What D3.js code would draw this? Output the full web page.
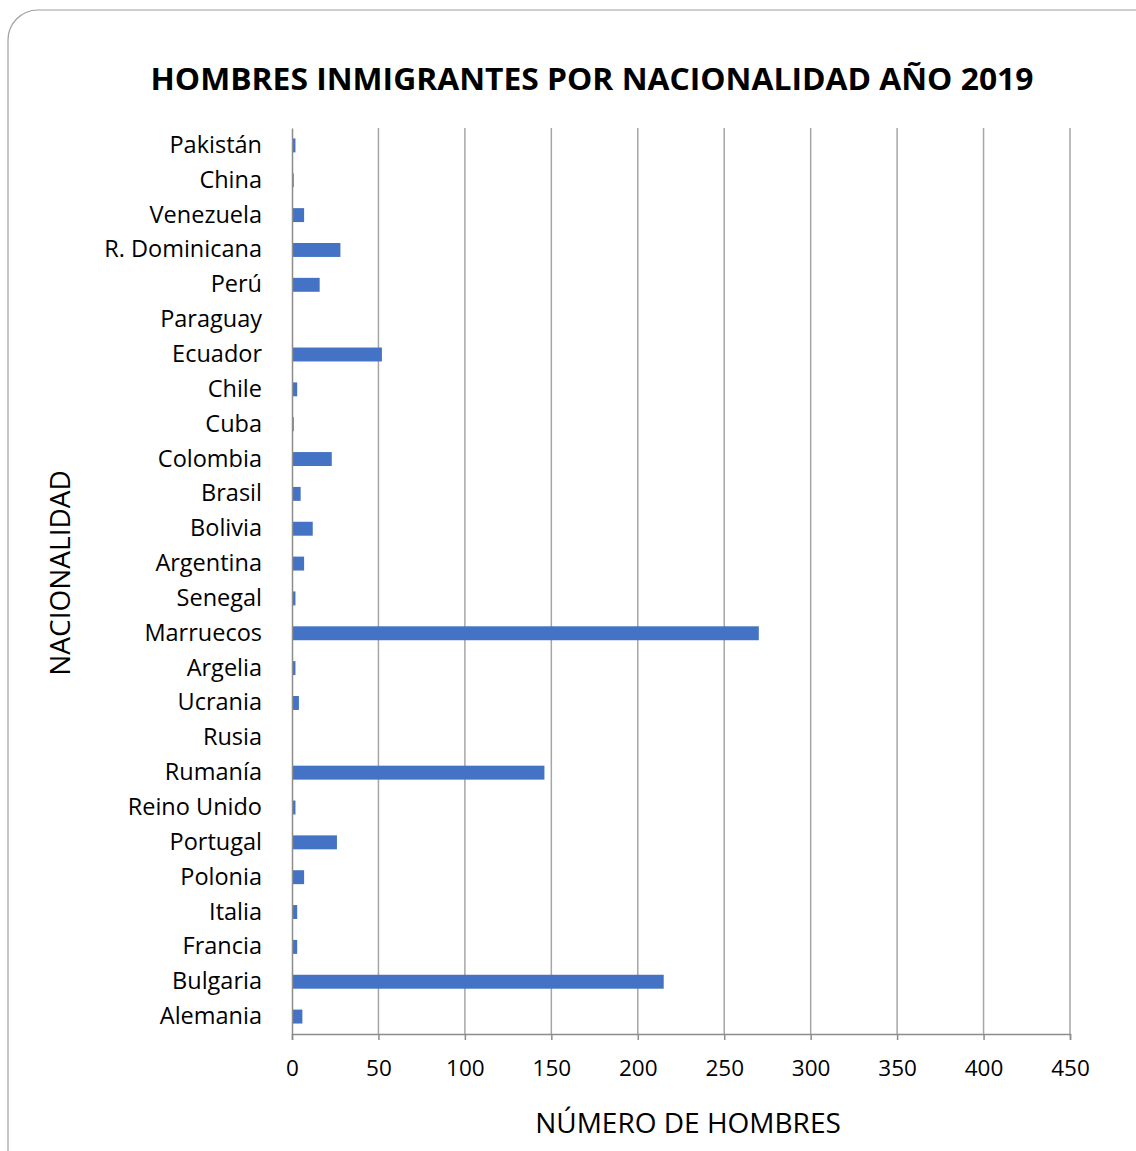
<!DOCTYPE html>
<html>
<head>
<meta charset="utf-8">
<script src="https://cdn.jsdelivr.net/npm/d3@7"></script>
<style>
  body { margin: 0; background: #fff; }
  text { font-family: "Open Sans", "Noto Sans", sans-serif; }
</style>
</head>
<body>
<svg id="chart" width="1136" height="1151"></svg>
<script>
// categories top to bottom
var paises = ["Pakistán", "China", "Venezuela", "R. Dominicana", "Perú", "Paraguay", "Ecuador",
  "Chile", "Cuba", "Colombia", "Brasil", "Bolivia", "Argentina", "Senegal", "Marruecos",
  "Argelia", "Ucrania", "Rusia", "Rumanía", "Reino Unido", "Portugal", "Polonia", "Italia",
  "Francia", "Bulgaria", "Alemania"];
var hombres = [2, 1, 7, 28, 16, 0, 52, 3, 1, 23, 5, 12, 7, 2, 270, 2, 4, 0, 146, 2, 26, 7, 3, 3, 215, 6];
var ticks = [0, 50, 100, 150, 200, 250, 300, 350, 400, 450];

var svg = d3.select("#chart");
var margin = {left: 292, right: 1070, top: 128, bottom: 1034};

// chart frame
svg.append("rect")
    .attr("x", 8).attr("y", 10)
    .attr("width", 1160).attr("height", 1170)
    .attr("rx", 30)
    .attr("fill", "#fff")
    .attr("stroke", "#a0a0a0")
    .attr("stroke-width", 1.2);

var x = d3.scaleLinear().domain([0, 450]).range([margin.left, margin.right]);
var y = d3.scaleBand().domain(paises).range([margin.top, margin.bottom]).paddingInner(0.6).paddingOuter(0.3);

// gridlines
svg.append("g")
    .selectAll("line")
    .data(ticks.slice(1))
    .join("line")
    .attr("x1", d => x(d)).attr("x2", d => x(d))
    .attr("y1", margin.top).attr("y2", margin.bottom)
    .attr("stroke", "#a6a6a6")
    .attr("stroke-width", 1.5);

// bars
svg.append("g")
    .selectAll("rect")
    .data(paises)
    .join("rect")
    .attr("x", x(0))
    .attr("y", (d, i) => y(d))
    .attr("width", (d, i) => Math.max(0, x(hombres[i]) - x(0)))
    .attr("height", y.bandwidth())
    .attr("fill", "#4472c4");

// x axis
var xAxis = svg.append("g")
    .attr("transform", "translate(0," + margin.bottom + ")")
    .call(d3.axisBottom(x).tickValues(ticks).tickSize(6).tickPadding(20));
xAxis.select(".domain").attr("stroke", "#8c8c8c").attr("stroke-width", 1.5);
xAxis.selectAll(".tick line").attr("stroke", "#8c8c8c").attr("stroke-width", 1.5);
xAxis.selectAll(".tick text")
    .attr("font-size", 22.5)
    .attr("fill", "#000")
    .style("font-family", "'Open Sans', sans-serif");

// y axis
var yAxis = svg.append("g")
    .attr("transform", "translate(" + margin.left + ",0)")
    .call(d3.axisLeft(y).tickSize(0).tickPadding(30));
yAxis.select(".domain").attr("stroke", "#8c8c8c").attr("stroke-width", 1.5);
yAxis.selectAll(".tick text")
    .attr("font-size", 23.5)
    .attr("fill", "#000")
    .style("font-family", "'Open Sans', sans-serif");

// title
svg.append("text")
    .attr("x", 592).attr("y", 90)
    .attr("text-anchor", "middle")
    .attr("font-size", 31)
    .attr("font-weight", "bold")
    .attr("textLength", 883)
    .attr("lengthAdjust", "spacingAndGlyphs")
    .text("HOMBRES INMIGRANTES POR NACIONALIDAD AÑO 2019");

// axis titles
svg.append("text")
    .attr("x", 688).attr("y", 1133)
    .attr("text-anchor", "middle")
    .attr("font-size", 28)
    .text("NÚMERO DE HOMBRES");

svg.append("text")
    .attr("transform", "translate(70,573) rotate(-90)")
    .attr("text-anchor", "middle")
    .attr("font-size", 28)
    .text("NACIONALIDAD");
</script>
</body>
</html>
